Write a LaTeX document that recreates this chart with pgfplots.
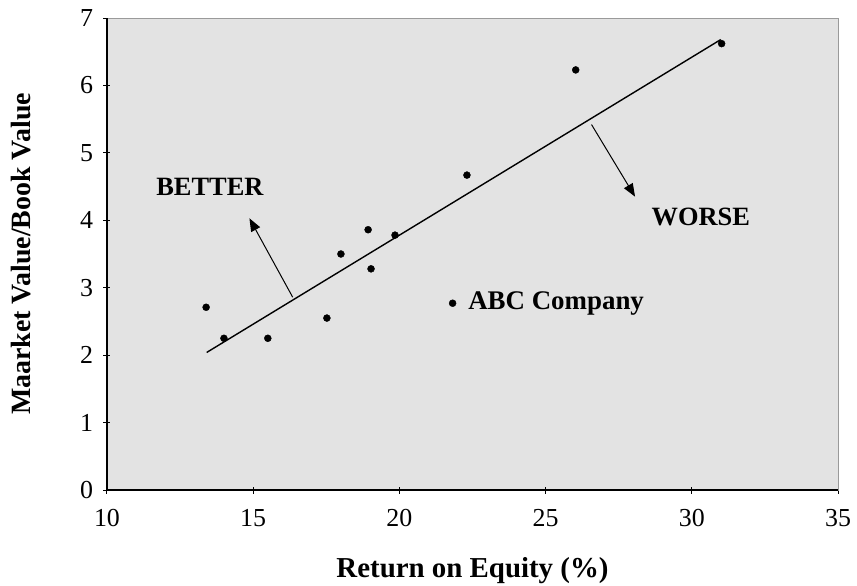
\documentclass[border=0pt]{standalone}
\usepackage{pgfplots}
\pgfplotsset{compat=1.18}
\usetikzlibrary{arrows.meta}
\usepackage{fontspec}
\setmainfont{Liberation Serif}
\definecolor{bg}{HTML}{E3E3E3}
\definecolor{frame}{HTML}{9A9A9A}
\begin{document}
\begin{tikzpicture}
\useasboundingbox (-107bp,-96bp) rectangle (750bp,490bp);
\begin{axis}[
  scale only axis, width=731bp, height=472bp,
  xmin=10, xmax=35, ymin=0, ymax=7,
  xtick={10,15,...,35}, ytick={0,1,...,7},
  xtick pos=bottom, ytick pos=left,
  tick align=center, major tick length=7bp,
  tick style={black, line width=1bp},
  axis background/.style={fill=bg},
  axis line style={frame, line width=0.8bp},
  /pgf/number format/assume math mode=true,
  tick label style={font=\fontsize{26}{29}\selectfont},
  xticklabel style={yshift=-12bp},
  yticklabel style={xshift=-7bp},
  xlabel={\textbf{Return on Equity (\%)}},
  ylabel={\textbf{Maarket Value/Book Value}},
  xlabel style={font=\fontsize{29}{32}\selectfont, yshift=-24bp},
  ylabel style={font=\fontsize{28}{31}\selectfont, yshift=42bp},
  clip=false,
]
\addplot[only marks, mark=*, mark size=3.5bp, black] coordinates {
  (13.39,2.71) (14.0,2.25) (15.5,2.25) (17.52,2.55) (18.0,3.5)
  (18.93,3.86) (19.03,3.28) (19.85,3.78) (22.31,4.67) (26.03,6.23)
  (31.02,6.62) (21.82,2.77)
};
\addplot[black, line width=1.4bp] coordinates {(13.41,2.04) (30.99,6.68)};
\addplot[black, line width=1bp, -{Triangle[length=13bp,width=10bp]}] coordinates {(16.35,2.86) (14.87,4.03)};
\addplot[black, line width=1bp, -{Triangle[length=13bp,width=10bp]}] coordinates {(26.57,5.42) (28.06,4.35)};
\node[font=\fontsize{26.5}{30}\selectfont\bfseries] at (axis cs:13.52,4.49) {BETTER};
\node[font=\fontsize{26.5}{30}\selectfont\bfseries] at (axis cs:30.31,4.05) {WORSE};
\node[font=\fontsize{27}{30}\selectfont\bfseries, anchor=west, inner sep=0pt] at (axis cs:22.35,2.77) {ABC Company};
\draw[black, line width=1.3bp] (rel axis cs:0,1) -- (rel axis cs:0,0) -- (rel axis cs:1,0);
\end{axis}
\end{tikzpicture}
\end{document}
